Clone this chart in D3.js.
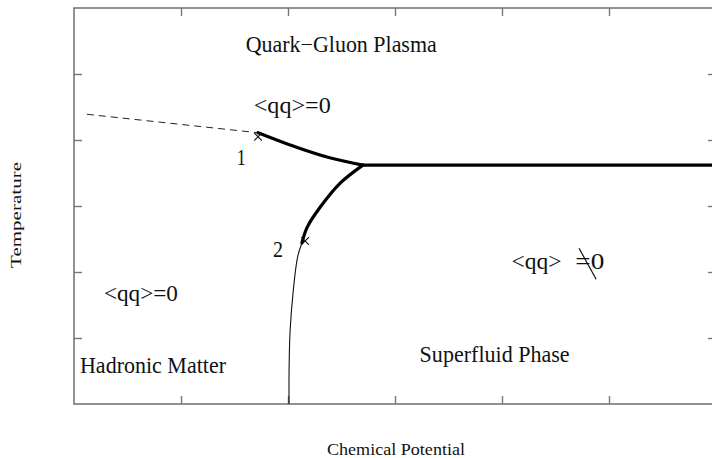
<!DOCTYPE html>
<html><head><meta charset="utf-8">
<script src="https://cdn.jsdelivr.net/npm/d3@7"></script>
<style>body{margin:0;background:#fff}svg{display:block}text{font-family:"Liberation Serif","Times New Roman",serif;fill:#111}</style>
</head><body><svg id="c" width="712" height="458"></svg>
<script>
// Data (axis units: chemical potential 0..6, temperature 0..6)
const xTicks = [1, 2, 3, 4, 5];
const yTicks = [1, 2, 3, 4, 5];
const crossoverLine = [[0.12, 4.39], [1.72, 4.11]];              // dashed
const chiralLine = [[1.72, 4.11], [2.08, 3.89], [2.39, 3.73], [2.70, 3.62]]; // thick, line 1
const superfluidTop = [[2.70, 3.62], [6.0, 3.62]];                // thick, horizontal
const chiralLine2 = [[2.70, 3.62], [2.49, 3.35], [2.30, 2.98], [2.18, 2.68], [2.13, 2.44]]; // thick
const hadronLine = [[2.13, 2.44], [2.09, 2.23], [2.05, 1.73], [2.02, 1.12], [2.01, 0.52], [2.01, 0]]; // thin
const endPoints = [[1.72, 4.05], [2.16, 2.47]];
// [text, x start, baseline y, text length in px]
const pointLabels = [["1", 1.52, 3.62, 9], ["2", 1.86, 2.23, 10]];
const regionLabels = [
  ["Quark\u2212Gluon Plasma", 1.605, 5.33, 191],
  ["<qq>=0", 1.68, 4.41, 77],
  ["<qq>=0", 0.28, 1.56, 74],
  ["Hadronic Matter", 0.056, 0.47, 146],
  ["Superfluid Phase", 3.23, 0.64, 150],
  ["<qq>", 4.09, 2.04, 50],
  ["=0", 4.685, 2.04, 29]
];
const notEqualSlash = [[4.72, 2.36], [4.88, 1.89]];

const svg = d3.select("#c");
const m = {l: 74, t: 8, r: 716, b: 404};
const x = d3.scaleLinear().domain([0, 6]).range([m.l, m.r]);
const y = d3.scaleLinear().domain([0, 6]).range([m.b, m.t]);
const frameColor = "#777";

// frame
svg.append("rect").attr("x", m.l).attr("y", m.t).attr("width", m.r - m.l).attr("height", m.b - m.t)
  .attr("fill", "none").attr("stroke", frameColor).attr("stroke-width", 1.6);

function styleAxis(g){ g.select(".domain").remove(); g.selectAll("line").attr("stroke", frameColor).attr("stroke-width", 1.4); g.selectAll("text").remove(); }
svg.append("g").attr("transform", `translate(0,${m.b})`).call(d3.axisBottom(x).tickValues(xTicks).tickSize(-8)).call(styleAxis);
svg.append("g").attr("transform", `translate(0,${m.t})`).call(d3.axisTop(x).tickValues(xTicks).tickSize(-8)).call(styleAxis);
svg.append("g").attr("transform", `translate(${m.l},0)`).call(d3.axisLeft(y).tickValues(yTicks).tickSize(-8)).call(styleAxis);
svg.append("g").attr("transform", `translate(${m.r},0)`).call(d3.axisRight(y).tickValues(yTicks).tickSize(-8)).call(styleAxis);

const lineCurve = d3.line().x(d => x(d[0])).y(d => y(d[1])).curve(d3.curveCatmullRom.alpha(0.5));
svg.append("path").attr("d", lineCurve(crossoverLine)).attr("fill", "none").attr("stroke", "#222").attr("stroke-width", 1).attr("stroke-dasharray", "7,5");
svg.append("path").attr("d", lineCurve(hadronLine)).attr("fill", "none").attr("stroke", "#111").attr("stroke-width", 1.1);
[chiralLine, superfluidTop, chiralLine2].forEach(p => {
  svg.append("path").attr("d", lineCurve(p)).attr("fill", "none").attr("stroke", "#000").attr("stroke-width", 3.2).attr("stroke-linecap", "round");
});

svg.selectAll(".ep").data(endPoints).join("path")
  .attr("transform", d => `translate(${x(d[0])},${y(d[1])})`)
  .attr("d", d3.symbol(d3.symbolTimes, 40)).attr("fill", "none").attr("stroke", "#111").attr("stroke-width", 1.1);

svg.selectAll(".pl").data(pointLabels.concat(regionLabels)).join("text")
  .attr("x", d => x(d[1])).attr("y", d => y(d[2])).attr("font-size", 22.5)
  .attr("textLength", d => d[3]).attr("lengthAdjust", "spacingAndGlyphs").text(d => d[0]);

svg.append("line").attr("x1", x(notEqualSlash[0][0])).attr("y1", y(notEqualSlash[0][1]))
  .attr("x2", x(notEqualSlash[1][0])).attr("y2", y(notEqualSlash[1][1])).attr("stroke", "#111").attr("stroke-width", 1.2);

// axis titles
svg.append("text").attr("x", 327).attr("y", 455).attr("font-size", 17)
  .attr("textLength", 138).attr("lengthAdjust", "spacingAndGlyphs").text("Chemical Potential");
svg.append("text").attr("transform", "translate(21,268) rotate(-90)").attr("font-size", 15)
  .attr("textLength", 106).attr("lengthAdjust", "spacingAndGlyphs").text("Temperature");
</script></body></html>
